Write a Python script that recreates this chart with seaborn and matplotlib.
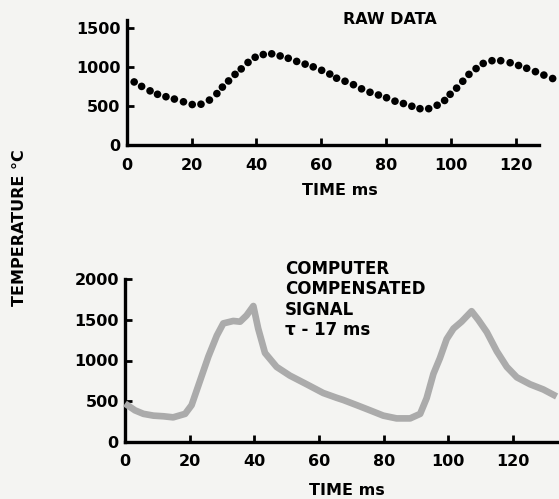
import matplotlib
matplotlib.use("Agg")
import matplotlib.pyplot as plt
import seaborn as sns
import pandas as pd

# ---- data ----
raw_time = [2.3, 4.6, 7.2, 9.5, 12.1, 14.7, 17.5, 20.2, 22.9, 25.5,
            27.8, 29.5, 31.4, 33.4, 35.3, 37.4, 39.6, 42.1, 44.7, 47.3,
            49.8, 52.4, 55.0, 57.5, 60.1, 62.6, 64.7, 67.3, 69.9, 72.4,
            75.0, 77.6, 80.1, 82.7, 85.3, 87.9, 90.4, 93.1, 95.7, 98.0,
            99.7, 101.7, 103.6, 105.5, 107.7, 109.9, 112.6, 115.3, 118.2, 120.8,
            123.3, 126.0, 128.6, 131.3]
raw_temp = [807, 750, 693, 649, 618, 588, 553, 518, 522, 575,
            658, 741, 820, 904, 974, 1057, 1123, 1158, 1167, 1140,
            1110, 1070, 1035, 1000, 956, 908, 855, 816, 772, 719,
            675, 640, 605, 561, 531, 496, 465, 465, 509, 570,
            649, 728, 816, 904, 978, 1044, 1079, 1079, 1053, 1018,
            982, 939, 895, 851]

comp_time = [0.0, 3.1, 5.7, 8.8, 11.9, 14.9, 18.6, 20.6, 23.2, 25.8,
             28.4, 30.4, 33.5, 35.6, 37.6, 39.7, 41.2, 43.3, 46.9, 51.0,
             56.2, 61.3, 65.5, 67.5, 71.7, 75.8, 79.9, 84.0, 88.2, 91.3,
             93.3, 95.4, 97.4, 99.5, 101.6, 104.1, 107.2, 109.3, 111.9, 115.0,
             118.1, 121.2, 125.3, 129.4, 133.5]
comp_temp = [470, 386, 343, 321, 313, 300, 343, 450, 750, 1050,
             1307, 1457, 1487, 1478, 1555, 1671, 1393, 1093, 921, 814,
             707, 600, 540, 514, 450, 386, 321, 287, 287, 343,
             536, 836, 1028, 1264, 1393, 1478, 1607, 1500, 1350, 1114,
             921, 793, 707, 643, 557]

x_ticks = [0, 20, 40, 60, 80, 100, 120]
top_y_ticks = [0, 500, 1000, 1500]
bot_y_ticks = [0, 500, 1000, 1500, 2000]

raw_df = pd.DataFrame({"time": raw_time, "temp": raw_temp})
comp_df = pd.DataFrame({"time": comp_time, "temp": comp_temp})

sns.set_style("ticks")
plt.rcParams["font.family"] = ["DejaVu Sans"]
plt.rcParams["font.weight"] = "bold"
for k in ("text.color", "axes.labelcolor", "xtick.color", "ytick.color",
          "axes.edgecolor"):
    plt.rcParams[k] = "black"

W, H = 559, 499
bg = "#f4f4f2"
fig = plt.figure(figsize=(W / 100, H / 100), dpi=100, facecolor=bg)

ax1 = fig.add_axes([126.7 / W, 1 - 145 / H, 133 * 3.244 / W, 125 / H])
ax2 = fig.add_axes([125 / W, 1 - 441.7 / H, 134.5 * 3.233 / W, 162.4 / H])

sns.scatterplot(data=raw_df, x="time", y="temp", ax=ax1, s=30, color="black",
                edgecolor="none", linewidth=0, clip_on=False, zorder=3)
sns.lineplot(data=comp_df, x="time", y="temp", ax=ax2, color="#ababab",
             linewidth=4.8, solid_joinstyle="round", solid_capstyle="butt",
             clip_on=False, zorder=3)

ax1.set_xlim(0, 133)
ax1.set_ylim(0, 1600)
ax2.set_xlim(0, 134.5)
ax2.set_ylim(0, 2000)

for ax, yt in ((ax1, top_y_ticks), (ax2, bot_y_ticks)):
    ax.set_facecolor("none")
    ax.spines["top"].set_visible(False)
    ax.spines["right"].set_visible(False)
    for s in ("left", "bottom"):
        ax.spines[s].set_linewidth(2.4)
        ax.spines[s].set_color("black")
    ax.set_xticks(x_ticks)
    ax.set_yticks(yt)
    ax.set_xticklabels([str(v) for v in x_ticks])
    ax.set_yticklabels([str(v) for v in yt])
    ax.tick_params(axis="both", direction="in", length=5, width=2,
                   labelsize=11.5, colors="black")
    ax.tick_params(axis="y", pad=4.5)
    ax.tick_params(axis="x", pad=9)
    for lab in ax.get_xticklabels() + ax.get_yticklabels():
        lab.set_fontweight("bold")
        lab.set_color("black")
    ax.set_ylabel("")

ax1.spines["bottom"].set_bounds(0, 127)
ax1.spines["left"].set_bounds(0, 1600)

ax1.set_xlabel("TIME ms", fontsize=11.5, fontweight="bold", color="black")
ax1.xaxis.set_label_coords(213.3 / 431.4, (145 - 183) / 125)
ax2.set_xlabel("TIME ms", fontsize=11.5, fontweight="bold", color="black")
ax2.xaxis.set_label_coords((347 - 125) / 434.8, (441.7 - 483) / 162.4)

fig.text(20 / W, 1 - 228 / H, "TEMPERATURE °C", rotation=90, ha="center",
         va="center", fontsize=11.5, fontweight="bold", color="black")
fig.text(390 / W, 1 - 19.5 / H, "RAW DATA", ha="center", va="center",
         fontsize=11.5, fontweight="bold", color="black")
fig.text(285 / W, 1 - 260 / H, "COMPUTER\nCOMPENSATED\nSIGNAL\nτ - 17 ms",
         ha="left", va="top", fontsize=12, fontweight="bold", linespacing=1.17,
         color="black")

fig.savefig("out.png", dpi=100, facecolor=bg)
